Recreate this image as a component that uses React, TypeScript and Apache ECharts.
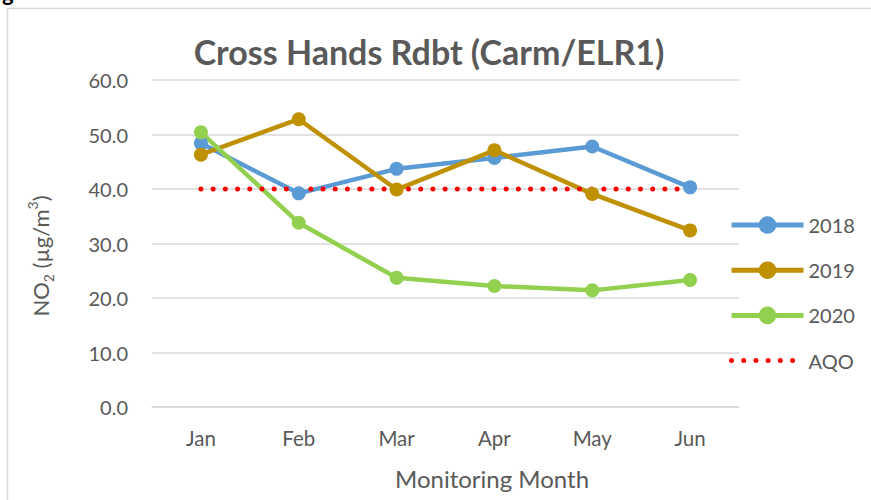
import React, { useEffect, useRef } from "react";
import * as echarts from "echarts";

const months = ["Jan", "Feb", "Mar", "Apr", "May", "Jun"];
const s2018 = [48.4, 39.2, 43.7, 45.7, 47.8, 40.3];
const s2019 = [46.3, 52.8, 39.9, 47.1, 39.1, 32.4];
const s2020 = [50.4, 33.8, 23.7, 22.2, 21.4, 23.3];
const aqo = [40, 40, 40, 40, 40, 40];
const yTicks = { min: 0, max: 60, interval: 10 };

const FONT = "Lato, 'Open Sans', sans-serif";
const GREY = "#595959";

export default function App() {
  const ref = useRef<HTMLDivElement>(null);
  useEffect(() => {
    document.body.style.margin = "0";
    const chart = echarts.init(ref.current!, undefined, { renderer: "svg" });
    const lineSeries = (name: string, data: number[], color: string) => ({
      name,
      type: "line",
      data,
      symbol: "circle",
      symbolSize: 14,
      itemStyle: { color },
      lineStyle: { color, width: 4.5 },
    });
    chart.setOption({
      animation: false,
      backgroundColor: "#ffffff",
      textStyle: { fontFamily: FONT },
      grid: { left: 152, right: 132, top: 80, bottom: 93 },
      xAxis: {
        type: "category",
        data: months,
        boundaryGap: true,
        axisLine: { lineStyle: { color: "#d9d9d9", width: 1.5 } },
        axisTick: { show: false },
        axisLabel: { color: GREY, fontSize: 20.5, margin: 20, fontFamily: FONT },
      },
      yAxis: {
        type: "value",
        min: yTicks.min,
        max: yTicks.max,
        interval: yTicks.interval,
        axisLine: { show: false },
        axisTick: { show: false },
        splitLine: { lineStyle: { color: "#d9d9d9", width: 1.5 } },
        axisLabel: {
          color: GREY,
          fontSize: 20,
          margin: 24,
          fontFamily: FONT,
          formatter: (v: number) => v.toFixed(1),
        },
      },
      legend: {
        orient: "vertical",
        left: 724,
        top: 210,
        itemWidth: 72,
        itemHeight: 22,
        itemGap: 25.2,
        lineStyle: { width: 5 },
        textStyle: { color: GREY, fontSize: 20, fontFamily: FONT },
        data: ["2018", "2019", "2020", { name: "AQO", itemStyle: { opacity: 0 } }],
      },
      series: [
        lineSeries("2018", s2018, "#5b9bd5"),
        lineSeries("2019", s2019, "#bf9000"),
        lineSeries("2020", s2020, "#92d050"),
        {
          name: "AQO",
          type: "line",
          data: aqo,
          symbol: "none",
          itemStyle: { color: "#ff0000" },
          lineStyle: { color: "#ff0000", width: 5, type: [0.01, 12.2], cap: "round" },
        },
      ],
      graphic: [
        {
          type: "rect",
          shape: { x: 7.5, y: 8.5, width: 1000, height: 700 },
          style: { fill: "none", stroke: "#d9d9d9", lineWidth: 1.5 },
          silent: true,
        },
        {
          type: "text",
          x: 2,
          y: -19,
          style: { text: "g", fill: "#000", font: `bold 22px ${FONT}`, verticalAlign: "top" },
        },
        {
          type: "text",
          x: 429,
          y: 51,
          style: {
            text: "Cross Hands Rdbt (Carm/ELR1)",
            fill: GREY,
            font: `bold 34px ${FONT}`,
            align: "center",
            verticalAlign: "middle",
          },
        },
        {
          type: "text",
          x: 492,
          y: 478,
          style: {
            text: "Monitoring Month",
            fill: GREY,
            font: `24px ${FONT}`,
            align: "center",
            verticalAlign: "middle",
          },
        },
        {
          type: "text",
          x: 40,
          y: 256,
          rotation: Math.PI / 2,
          style: {
            text: "{a|NO}{sub|2}{a| (µg/m}{sup|3}{a|)}",
            fill: GREY,
            align: "center",
            verticalAlign: "middle",
            rich: {
              a: { fontSize: 22, fontFamily: FONT, fill: GREY, lineHeight: 30, verticalAlign: "middle" },
              sub: { fontSize: 14, fontFamily: FONT, fill: GREY, lineHeight: 30, verticalAlign: "bottom" },
              sup: { fontSize: 14, fontFamily: FONT, fill: GREY, lineHeight: 30, verticalAlign: "top" },
            },
          },
        },
      ],
    });
    return () => chart.dispose();
  }, []);
  return <div ref={ref} style={{ width: 871, height: 500 }} />;
}
